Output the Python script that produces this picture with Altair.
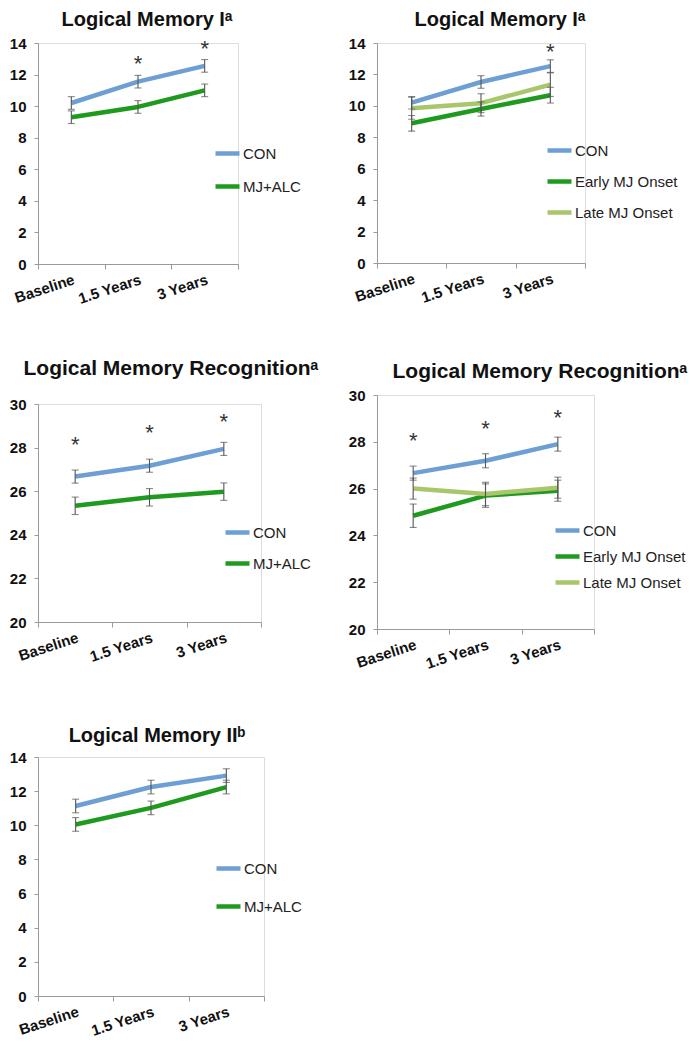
import altair as alt
import pandas as pd

times = ["Baseline", "1.5 Years", "3 Years"]
titles = ["Logical Memory Iᵃ", "Logical Memory Iᵃ", "Logical Memory Recognitionᵃ",
          "Logical Memory Recognitionᵃ", "Logical Memory IIᵇ"]

# Panel 1: Logical Memory I (CON vs MJ+ALC)
p1_groups = ["CON", "MJ+ALC"]
p1_con = [10.2, 11.55, 12.55]
p1_con_se = [0.4, 0.4, 0.4]
p1_mj = [9.3, 9.95, 11.0]
p1_mj_se = [0.4, 0.4, 0.4]
p1_star_t = ["1.5 Years", "3 Years"]
p1_star_y = [12.93, 13.9]

# Panel 2: Logical Memory I (onset groups)
p2_groups = ["CON", "Early MJ Onset", "Late MJ Onset"]
p2_con = [10.2, 11.52, 12.53]
p2_con_se = [0.4, 0.4, 0.4]
p2_early = [8.89, 9.8, 10.68]
p2_early_se = [0.5, 0.45, 0.5]
p2_late = [9.85, 10.17, 11.35]
p2_late_se = [0.7, 0.6, 0.75]
p2_star_t = ["3 Years"]
p2_star_y = [13.7]

# Panel 3: Logical Memory Recognition (CON vs MJ+ALC)
p3_con = [26.67, 27.17, 27.94]
p3_con_se = [0.3, 0.3, 0.3]
p3_mj = [25.33, 25.72, 25.98]
p3_mj_se = [0.4, 0.4, 0.4]
p3_star_t = ["Baseline", "1.5 Years", "3 Years"]
p3_star_y = [28.32, 28.85, 29.36]

# Panel 4: Logical Memory Recognition (onset groups)
p4_con = [26.66, 27.19, 27.9]
p4_con_se = [0.3, 0.3, 0.3]
p4_early = [24.84, 25.7, 25.91]
p4_early_se = [0.5, 0.5, 0.45]
p4_late = [26.0, 25.77, 26.04]
p4_late_se = [0.45, 0.5, 0.45]
p4_star_t = ["Baseline", "1.5 Years", "3 Years"]
p4_star_y = [28.22, 28.72, 29.19]

# Panel 5: Logical Memory II (CON vs MJ+ALC)
p5_con = [11.13, 12.24, 12.91]
p5_con_se = [0.4, 0.4, 0.4]
p5_mj = [10.05, 11.02, 12.24]
p5_mj_se = [0.4, 0.4, 0.4]

C_CON = "#6E9FD4"
C_EARLY = "#1E9A1E"
C_LATE = "#A9C66C"
FONT = "Liberation Sans, Arial, DejaVu Sans, sans-serif"


def panel(title, tsize, tx, tgap, groups, series, ses, colors, ydom, ystep,
          width, height, lx, ly, rowpad, star_t=None, star_y=None):
    rows = []
    for g, vals, se in zip(groups, series, ses):
        for i, (t, v, s) in enumerate(zip(times, vals, se)):
            rows.append({"group": g, "time": t, "idx": i, "value": v,
                         "lo": v - s, "hi": v + s})
    df = pd.DataFrame(rows)

    xaxis = alt.Axis(tickBand="extent", labelAngle=-18, labelAlign="right",
                     labelBaseline="top", labelFont=FONT, labelFontSize=15,
                     labelFontWeight="bold", labelColor="#111",
                     labelPadding=3, tickSize=5, tickColor="#9a9a9a",
                     domainColor="#9a9a9a", grid=False, labelOverlap=False)
    xscale = alt.Scale(type="band", paddingInner=0, paddingOuter=0)
    xs = alt.X("time:N", sort=times, title=None, scale=xscale, axis=xaxis)
    yvals = list(range(ydom[0], ydom[1] + 1, ystep))
    yscale = alt.Scale(domain=ydom, nice=False, zero=False)
    yaxis = alt.Axis(values=yvals, title=None, grid=False, labelFont=FONT,
                     labelFontSize=15, labelFontWeight="bold", labelColor="#111",
                     tickSize=4, tickColor="#9a9a9a", domainColor="#9a9a9a",
                     labelPadding=8, labelOverlap=False)

    def Y(field):
        return alt.Y(field, scale=yscale, axis=yaxis, title=None)

    base = alt.Chart(df)
    color = alt.Color("group:N", sort=groups,
                      scale=alt.Scale(domain=groups, range=colors),
                      legend=alt.Legend(orient="none", legendX=lx, legendY=ly,
                                        title=None, symbolType="stroke",
                                        symbolStrokeWidth=4.5, symbolSize=576,
                                        labelFont=FONT, labelFontSize=15,
                                        labelColor="#222", labelOffset=1,
                                        rowPadding=rowpad, padding=0))
    lines = base.mark_line(strokeWidth=4.5, strokeJoin="round").encode(
        x=xs, y=Y("value:Q"), color=color, order=alt.Order("idx:Q"),
    )
    err = base.mark_rule(color="#555", strokeWidth=1.1).encode(
        x=xs, y=Y("lo:Q"), y2="hi:Q")
    cap_lo = base.mark_tick(color="#555", thickness=1.1, size=7).encode(
        x=xs, y=Y("lo:Q"))
    cap_hi = base.mark_tick(color="#555", thickness=1.1, size=7).encode(
        x=xs, y=Y("hi:Q"))
    layers = [lines, err, cap_lo, cap_hi]
    if star_t:
        sdf = pd.DataFrame({"time": star_t, "y": star_y})
        stars = alt.Chart(sdf).mark_text(text="*", fontSize=22, font=FONT,
                                         color="#333", baseline="middle", dy=4).encode(
            x=xs, y=Y("y:Q"))
        layers.append(stars)
    tdf = pd.DataFrame({"title": [title]})
    ttl = alt.Chart(tdf).mark_text(font=FONT, fontSize=tsize, fontWeight="bold",
                                   color="#111", align="center",
                                   baseline="alphabetic").encode(
        text="title:N", x=alt.value(tx), y=alt.value(-tgap))
    layers.append(ttl)
    return alt.layer(*layers).properties(width=width, height=height)


p1 = panel(titles[0], 20, 109, 17, p1_groups, [p1_con, p1_mj],
           [p1_con_se, p1_mj_se], [C_CON, C_EARLY], [0, 14], 2,
           200, 221, 175, 96, 9, p1_star_t, p1_star_y)
p2 = panel(titles[1], 20, 123, 17, p2_groups, [p2_con, p2_early, p2_late],
           [p2_con_se, p2_early_se, p2_late_se], [C_CON, C_EARLY, C_LATE],
           [0, 14], 2, 208, 220, 168, 93, 7, p2_star_t, p2_star_y)
p3 = panel(titles[2], 21, 133, 29, p1_groups, [p3_con, p3_mj],
           [p3_con_se, p3_mj_se], [C_CON, C_EARLY], [20, 30], 2,
           223, 218, 185, 114, 7, p3_star_t, p3_star_y)
p4 = panel(titles[3], 21, 163, 17, p2_groups, [p4_con, p4_early, p4_late],
           [p4_con_se, p4_early_se, p4_late_se], [C_CON, C_EARLY, C_LATE],
           [20, 30], 2, 217, 234, 176, 121, 2, p4_star_t, p4_star_y)
p5 = panel(titles[4], 20, 119, 15, p1_groups, [p5_con, p5_mj],
           [p5_con_se, p5_mj_se], [C_CON, C_EARLY], [0, 14], 2,
           226, 239, 176, 97, 14)

left_top = alt.vconcat(p1, p3, spacing=50).resolve_scale(color="independent")
left = alt.vconcat(left_top, p5, spacing=60).resolve_scale(color="independent")
right = alt.vconcat(p2, p4, spacing=54).resolve_scale(color="independent")
chart = alt.hconcat(left, right, spacing=28).resolve_scale(
    color="independent"
).properties(
    padding={"left": 0, "top": 1, "right": 0, "bottom": 0}
).configure_view(stroke=None).configure(background="white")

chart.save("out.html", embed_options={"renderer": "svg", "actions": False})
